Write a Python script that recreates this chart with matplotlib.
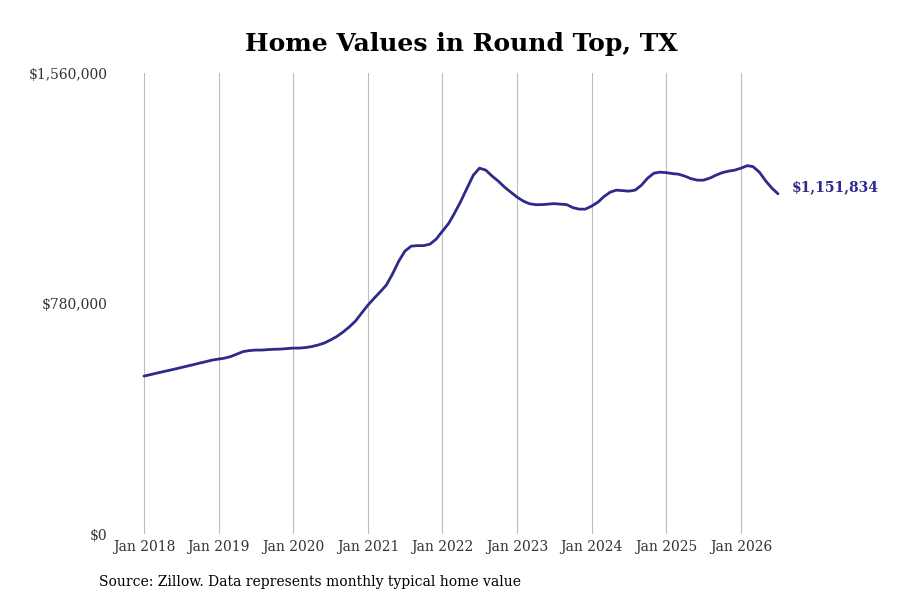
import matplotlib
matplotlib.use("Agg")
import matplotlib.pyplot as plt
import matplotlib.dates as mdates
import pandas as pd

# Monthly typical home value (thousands of $), Jan 2018 .. Jul 2026
values_2018 = [534.7, 539.4, 544.1, 548.9, 553.6, 558.4, 563.4, 568.5, 573.6, 578.7, 583.7, 588.8]
values_2019 = [592.2, 595.6, 600.7, 609.1, 617.6, 621.0, 622.7, 622.7, 624.3, 625.4, 626.0, 627.7]
values_2020 = [629.4, 629.4, 631.1, 634.5, 639.6, 646.3, 656.5, 668.3, 683.6, 700.5, 720.8, 747.9]
values_2021 = [774.9, 798.6, 818.9, 842.6, 879.8, 923.8, 957.7, 974.6, 976.3, 976.3, 981.4, 998.3]
values_2022 = [1025.4, 1052.4, 1086.3, 1126.9, 1170.9, 1214.9, 1238.5, 1231.8, 1211.5, 1194.6, 1174.2, 1157.3]
values_2023 = [1140.4, 1126.9, 1118.4, 1115.0, 1115.0, 1116.7, 1118.4, 1116.7, 1115.0, 1104.9, 1099.8, 1099.8]
values_2024 = [1110.0, 1123.5, 1142.1, 1157.3, 1164.1, 1162.4, 1160.7, 1164.1, 1181.0, 1204.7, 1221.6, 1225.0]
values_2025 = [1223.3, 1219.9, 1218.2, 1211.5, 1203.0, 1197.9, 1197.9, 1204.7, 1214.9, 1223.3, 1228.4, 1231.8]
values_2026 = [1238.5, 1247.0, 1243.6, 1225.0, 1196.2, 1170.9, 1151.834]

values_k = (values_2018 + values_2019 + values_2020 + values_2021 + values_2022
            + values_2023 + values_2024 + values_2025 + values_2026)
values = [v * 1000 for v in values_k]
dates = pd.date_range("2018-01-01", periods=len(values), freq="MS")

y_ticks = [0, 780000, 1560000]
y_tick_labels = ["$0", "$780,000", "$1,560,000"]
title = "Home Values in Round Top, TX"
source = "Source: Zillow. Data represents monthly typical home value"
end_label = "$1,151,834"

line_color = "#2e2a8a"
text_color = "#333333"

plt.rcParams["font.family"] = ["DejaVu Serif"]

fig = plt.figure(figsize=(9, 6), dpi=100)
ax = fig.add_axes([0.125, 0.11, 0.775, 0.768])

ax.plot(dates, values, color=line_color, lw=2.0, solid_capstyle="round")

# x limits so Jan 2018 and Jan 2026 land where the reference has them
start = pd.Timestamp("2018-01-01")
end = pd.Timestamp("2026-01-01")
ppd = (741 - 144) / (end - start).days
ax_left_px = 0.125 * 900
ax_right_px = 0.9 * 900
xl = start - pd.Timedelta(days=(144 - ax_left_px) / ppd)
xr = end + pd.Timedelta(days=(ax_right_px - 741) / ppd)
ax.set_xlim(xl, xr)
ax.set_ylim(0, 1560000)

ax.xaxis.set_major_locator(mdates.YearLocator(month=1, day=1))
ax.xaxis.set_major_formatter(mdates.DateFormatter("%b %Y"))
ax.set_yticks(y_ticks)
ax.set_yticklabels(y_tick_labels)

ax.grid(axis="x", color="#bdbdbd", lw=0.8)
ax.grid(axis="y", visible=False)
for s in ax.spines.values():
    s.set_visible(False)
ax.tick_params(axis="both", length=0, labelsize=10, colors=text_color)
ax.tick_params(axis="x", pad=4)
ax.tick_params(axis="y", pad=3.5)

ax.annotate(end_label, xy=(dates[-1], values[-1]), xytext=(10, 5),
            textcoords="offset points", ha="left", va="center",
            fontsize=10, fontweight="bold", color=line_color)

fig.text(0.513, 0.927, title, ha="center", va="center", fontsize=18,
         fontweight="bold", color="black")
fig.text(0.11, 0.03, source, ha="left", va="center", fontsize=10, color="black")

fig.savefig("out.png", dpi=100)
